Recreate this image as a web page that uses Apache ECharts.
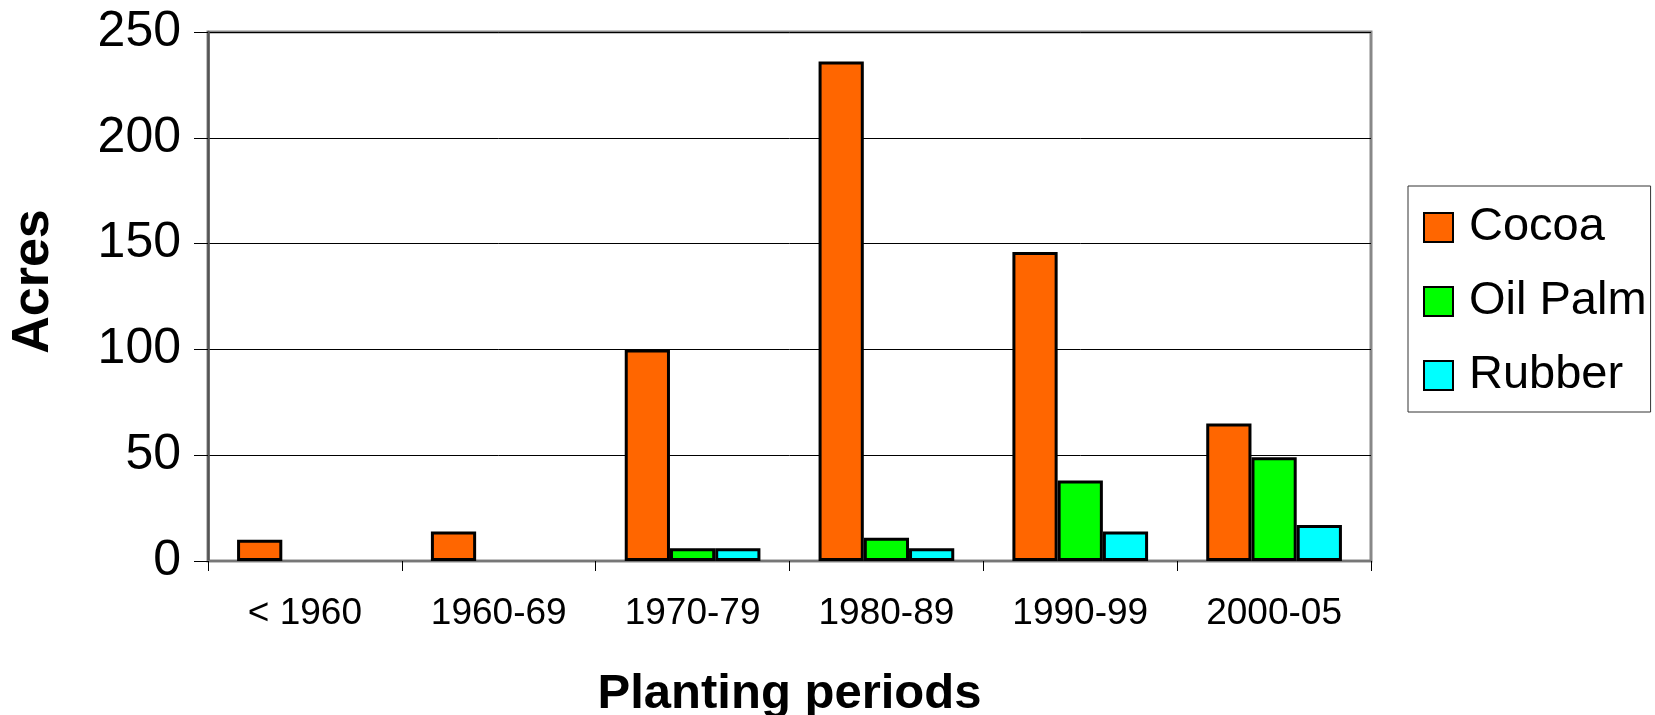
<!DOCTYPE html>
<html>
<head>
<meta charset="utf-8">
<script src="https://cdn.jsdelivr.net/npm/echarts@6/dist/echarts.min.js"></script>
<style>
html,body{margin:0;padding:0;background:#fff;}
#chart{width:1655px;height:715px;}
</style>
</head>
<body>
<div id="chart"></div>
<script>
const categories = ['< 1960', '1960-69', '1970-79', '1980-89', '1990-99', '2000-05'];
const cocoa = [10, 14, 100, 236, 146, 65];
const oilPalm = [0, 0, 6, 11, 38, 49];
const rubber = [0, 0, 6, 6, 14, 17];
const seriesNames = ['Cocoa', 'Oil Palm', 'Rubber'];
const yTicks = [0, 50, 100, 150, 200, 250];

const FONT = "'Liberation Sans', Arial, sans-serif";
const colors = ['#FF6600', '#00FF00', '#00FFFF'];
const values = [cocoa, oilPalm, rubber];

const chart = echarts.init(document.getElementById('chart'), null, {renderer: 'canvas'});
chart.setOption({
  animation: false,
  backgroundColor: '#fff',
  textStyle: {fontFamily: FONT},
  grid: {left: 208, right: 284, top: 32, bottom: 154, outerBoundsMode: 'none', containLabel: false,
    show: true, borderColor: '#888', borderWidth: 3, backgroundColor: 'transparent'},
  legend: {
    left: 1408, top: 186, orient: 'vertical',
    data: seriesNames,
    itemWidth: 29, itemHeight: 29, itemGap: 27,
    padding: [18, 4, 13, 15],
    borderColor: '#333', borderWidth: 1,
    icon: 'rect',
    itemStyle: {borderColor: '#000', borderWidth: 2},
    textStyle: {fontSize: 47, color: '#000', fontFamily: FONT, padding: [0, 0, 0, 11]}
  },
  xAxis: {
    type: 'category', data: categories,
    name: 'Planting periods', nameLocation: 'middle', nameGap: 109,
    nameTextStyle: {fontSize: 49, fontWeight: 'bold', color: '#000', fontFamily: FONT},
    axisLine: {lineStyle: {color: '#777', width: 2}},
    axisTick: {show: true, inside: false, length: 10, lineStyle: {color: '#000', width: 1}},
    axisLabel: {fontSize: 37, color: '#000', margin: 34, fontFamily: FONT, interval: 0},
    splitLine: {show: false}
  },
  yAxis: {
    type: 'value', min: 0, max: 250, interval: 50,
    name: 'Acres', nameLocation: 'middle', nameGap: 148, nameRotate: 90,
    nameTextStyle: {fontSize: 52, fontWeight: 'bold', color: '#000', fontFamily: FONT, padding: [0, 0, 0, 30]},
    axisLine: {show: true, lineStyle: {color: '#555', width: 2.5}},
    axisTick: {show: true, inside: false, length: 14, lineStyle: {color: '#000', width: 1}},
    axisLabel: {fontSize: 50, color: '#000', margin: 27, fontFamily: FONT,
      formatter: v => yTicks.includes(v) ? String(v) : ''},
    splitLine: {show: true, lineStyle: {color: '#000', width: 1}}
  },
  series: seriesNames.map((n, i) => ({
    name: n, type: 'bar',
    data: values[i].map(v => (v === 0 ? null : v)),
    barGap: '0%', barCategoryGap: '30%',
    itemStyle: {color: colors[i], borderColor: '#000', borderWidth: 3}
  }))
});
</script>
</body>
</html>
